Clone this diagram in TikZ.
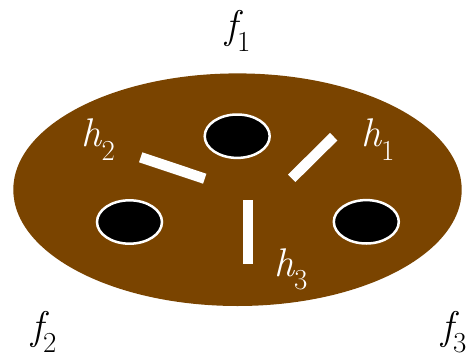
\documentclass[tikz,border=0pt]{standalone}
\definecolor{soil}{RGB}{122,68,0}
\newcommand\mylbl[2]{{\fontsize{40}{40}\selectfont\itshape #1}\raisebox{-13.5pt}{\fontsize{29}{29}\selectfont #2}}
\tikzset{
  hole/.style={fill=black,draw=white,line width=2.5pt},
  bar/.style={draw=white,line width=10.5pt,line cap=butt},
  lab/.style={inner sep=0pt,anchor=base west},
  wlab/.style={lab,text=white}
}
\begin{document}
\begin{tikzpicture}[x=1pt,y=-1pt]
\useasboundingbox (0,0) rectangle (473,356);
\fill[soil] (237.5,189.7) ellipse [x radius=224.2, y radius=116.3];
\draw[hole] (237.2,136.2) ellipse [x radius=32.5, y radius=21.7];
\draw[hole] (129.5,222) ellipse [x radius=32.5, y radius=21.7];
\draw[hole] (366.3,221.8) ellipse [x radius=32.5, y radius=21.7];
\coordinate (b2a) at (140.7,157.3); \coordinate (b2b) at (204.7,178.7);
\coordinate (b1a) at (333.7,136.7); \coordinate (b1b) at (291.7,178.3);
\coordinate (b3a) at (247.8,200);   \coordinate (b3b) at (247.8,264.3);
\draw[bar] (b2a) -- (b2b);
\draw[bar] (b1a) -- (b1b);
\draw[bar] (b3a) -- (b3b);
\node[wlab] (h2) at (81.5,146.7) {\mylbl{h}{2}};
\node[wlab] (h1) at (361,146.7) {\mylbl{h}{1}};
\node[wlab] (h3) at (274,276) {\mylbl{h}{3}};
\node[lab] (f1) at (225,38) {\mylbl{f}{1}};
\node[lab] (f2) at (31,339) {\mylbl{f}{2}};
\node[lab] (f3) at (441,339) {\mylbl{f}{3}};
\end{tikzpicture}
\end{document}
